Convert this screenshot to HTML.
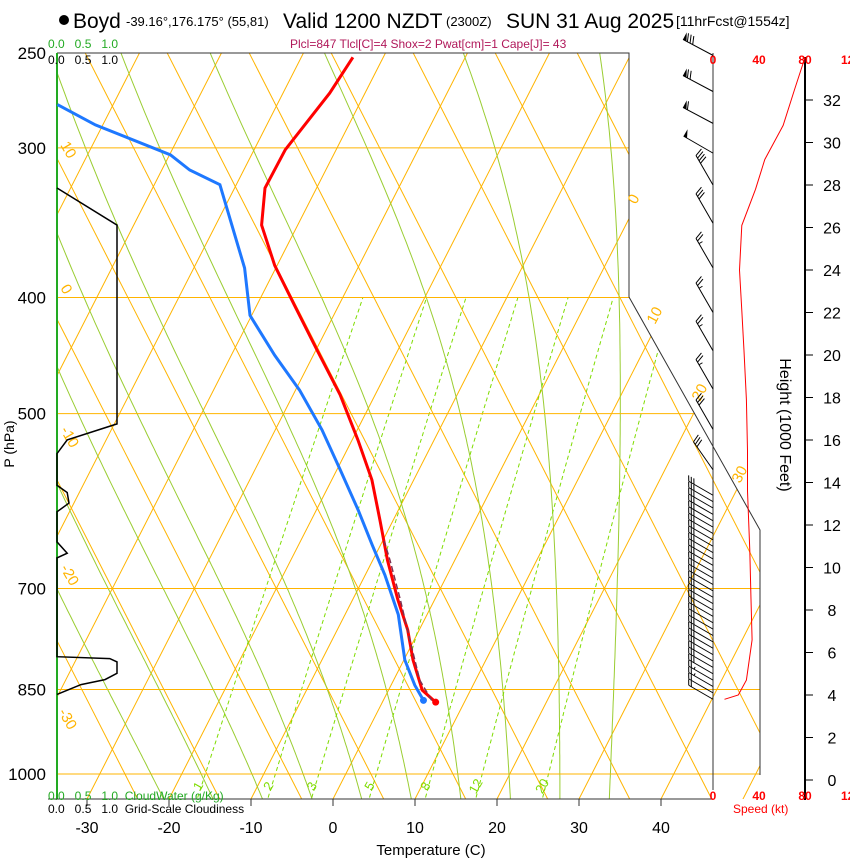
<!DOCTYPE html>
<html><head><meta charset="utf-8"><style>
body{margin:0;background:#fff;}
svg{display:block;font-family:"Liberation Sans",Arial,sans-serif;}
</style></head><body>
<svg id="chart" width="850" height="860" viewBox="0 0 850 860" xmlns="http://www.w3.org/2000/svg">
<defs><clipPath id="plotclip"><polygon points="57,53 629,53 629,297 760,530 760,799 57,799"/></clipPath></defs>
<g id="bg" clip-path="url(#plotclip)"></g>
<g id="fg"></g>
<circle cx="64" cy="20" r="5" fill="#000"/>
<text x="73" y="28" font-size="21">Boyd</text>
<text x="126" y="26" font-size="13">-39.16°,176.175° (55,81)</text>
<text x="283" y="28" font-size="21">Valid 1200 NZDT</text>
<text x="446" y="26" font-size="13">(2300Z)</text>
<text x="506" y="28" font-size="21">SUN 31 Aug 2025</text>
<text x="676" y="26" font-size="14">[11hrFcst@1554z]</text>
<text x="290" y="48" font-size="12" fill="#b0185a">Plcl=847 Tlcl[C]=4 Shox=2 Pwat[cm]=1 Cape[J]= 43</text>
<text x="10" y="440" font-size="14" transform="rotate(-90 14 440)" text-anchor="middle">P (hPa)</text>
<text x="431" y="855" font-size="15" text-anchor="middle">Temperature (C)</text>
<text x="780" y="425" font-size="16" transform="rotate(90 780 425)" text-anchor="middle">Height (1000 Feet)</text>
<text x="733" y="813" font-size="12" fill="#f00">Speed (kt)</text>
<text x="48" y="48" font-size="12" fill="#2a2">0.0 &#160; 0.5 &#160; 1.0</text>
<text x="48" y="64" font-size="12">0.0 &#160; 0.5 &#160; 1.0</text>
<text x="48" y="800" font-size="12" fill="#2a2">0.0 &#160; 0.5 &#160; 1.0 &#160;CloudWater (g/Kg)</text>
<text x="48" y="813" font-size="12">0.0 &#160; 0.5 &#160; 1.0 &#160;Grid-Scale Cloudiness</text>
</svg>
<script>
// ---- data ----
const isobarLevels=[300,400,500,700,850,1000];
const tempTicks=[-30,-20,-10,0,10,20,30,40];
const heightTicks=[0,2,4,6,8,10,12,14,16,18,20,22,24,26,28,30,32];
const speedTicks=[0,40,80,120];
const mixRatios=[1,2,3,5,8,12,20];
const moistStarts=[-20,-14,-8,-2,4,10,16,22,28,34];
const tempP=[252,270,301,324,348,376,406,443,482,526,568,614,663,715,758,803,851,871];
const tempT=[-43.7,-44.3,-46.2,-46.3,-44.4,-40.3,-35.4,-29.8,-24.3,-19.3,-15.1,-11.6,-8.2,-4.5,-1.4,1.1,4.1,6.5];
const dewP=[276,287,304,313,322,378,414,447,478,516,557,602,644,682,736,803,843,868];
const dewT=[-76.8,-70.9,-59.9,-56.6,-52.0,-43.8,-40.2,-34.7,-29.5,-24.3,-19.6,-14.9,-11.0,-7.6,-3.5,0.1,2.9,4.9];
const parcelP=[868,835,773,715,663,639];
const parcelT=[5.9,3.2,-0.5,-4.2,-7.9,-9.8];
const cloudP=[324,348,510,526,540,574,582,594,604,640,654,660,798,801,806,824,834,842,858];
const cloudF=[0,1,1,0.17,0,0,0.17,0.2,0,0,0.17,0,0,0.88,1,1,0.8,0.4,0];
const spdH=[34.0,32.5,30.8,29.2,27.8,26.1,24.0,22.1,20.2,17.9,15.5,13.6,10.8,8.5,6.6,4.7,4.0,3.8];
const spdKt=[80,71,61,45,37,25,23,25,27,29,30,30,32,33,34,29,22,10];
const barbH=[34.1,32.4,30.9,29.5,28.0,26.2,24.1,22.0,20.2,18.4,16.5,14.6,13.4,13.1,12.8,12.5,12.2,11.9,11.6,11.3,11.0,10.7,10.4,10.1,9.8,9.5,9.2,8.9,8.6,8.3,8.0,7.7,7.4,7.1,6.8,6.5,6.2,5.9,5.6,5.3,5.0,4.7,4.4,4.1,3.8];
const barbKt=[80,72,62,50,40,30,25,25,27,28,30,30,30,30,30,31,31,31,32,32,32,32,32,33,33,33,33,33,33,34,34,34,34,34,34,34,34,33,32,31,30,28,25,22,20];
const barbDir=[298,298,298,300,330,330,330,330,330,330,330,325,300,300,300,300,300,300,300,300,300,300,300,300,300,300,300,300,300,300,300,300,300,300,300,300,300,300,300,300,300,300,300,300,300];

// ---- axis functions ----
const yP=p=>774+520*Math.log(p/1000);
const xT=(T,p)=>333+8.2*T+0.51*(799-yP(p));
const yH=h=>780-21.25*h;
const xS=s=>713+1.15*s;
const xC=c=>57+60*c;
const NS='http://www.w3.org/2000/svg';
const bg=document.getElementById('bg'),fg=document.getElementById('fg');
function mk(tag,attrs,parent){const e=document.createElementNS(NS,tag);for(const k in attrs)e.setAttribute(k,attrs[k]);parent.appendChild(e);return e;}
function pathD(pts){return pts.map((q,i)=>(i?'L':'M')+q[0].toFixed(1)+','+q[1].toFixed(1)).join('');}
const ORG='#ffb400',GRN='#9acd32';

// isotherms and their mirrored diagonals
const y700=yP(700);
for(let T=-150;T<=80;T+=10){
  const e=mk('line',{x1:xT(T,1060),y1:yP(1060),x2:xT(T,240),y2:yP(240),stroke:ORG,'stroke-width':1},bg);
  
  
  const x0=xT(T,700);
  const d=mk('line',{x1:x0+0.51*(40-y700),y1:40,x2:x0+0.51*(810-y700),y2:810,stroke:ORG,'stroke-width':1},bg);
  
  
}
// moist adiabats
function es(T){return 6.112*Math.exp(17.67*T/(T+243.5));}
moistStarts.forEach(t0=>{
  let T=t0+273.15,pts=[];
  for(let p=1060;p>=240;p-=5){
    pts.push([xT(T-273.15,p),yP(p)]);
    const rs=0.622*es(T-273.15)/(p-es(T-273.15));
    const dTdp=(287*T+2.5e6*rs)/(p*(1004+2.5e6*2.5e6*rs*0.622/(287*T*T)));
    T-=dTdp*5;
  }
  const e=mk('path',{d:pathD(pts),fill:'none',stroke:GRN,'stroke-width':1},bg);
  
  
});
// mixing ratio lines
function tdw(w,p){const e=w*p/(622+w);const l=Math.log(e/6.112);return 243.5*l/(17.67-l);}
mixRatios.forEach(w=>{
  const pts=[];for(let p=1060;p>=400;p-=10){pts.push([xT(tdw(w,p),p),yP(p)]);}
  const e=mk('path',{d:pathD(pts),fill:'none',stroke:'#7fdc00','stroke-width':1,'stroke-dasharray':'4,3'},bg);
  
  
  const lx=xT(tdw(w,1020),1020),ly=yP(1020)+4;
  const e2=mk('text',{x:lx,y:ly,fill:'#7fdc00','font-size':13,'text-anchor':'middle',transform:`rotate(-60 ${lx} ${ly})`},fg);
  e2.textContent=w;
  
  
});
// isobars
isobarLevels.forEach(p=>{
  const e=mk('line',{x1:57,x2:760,y1:yP(p),y2:yP(p),stroke:ORG,'stroke-width':1},bg);
  
  
  const t=mk('text',{x:46,y:yP(p)+6,'font-size':17,'text-anchor':'end'},fg);
  t.textContent=p;
  
  
});
{const t=mk('text',{x:46,y:yP(250)+6,'font-size':17,'text-anchor':'end'},fg);t.textContent='250';

}
// frame
{const e=mk('path',{d:'M57,53L629,53L629,297L760,530L760,775',fill:'none',stroke:'#333','stroke-width':1},fg);


const l=mk('line',{x1:57,y1:53,x2:57,y2:799,stroke:'#2a2','stroke-width':2},fg);


const b=mk('line',{x1:48,y1:799,x2:713,y2:799,stroke:'#333','stroke-width':1},fg);

}
tempTicks.forEach(T=>{
  const x=333+8.2*T;
  const l=mk('line',{x1:x,x2:x,y1:799,y2:806,stroke:'#333'},fg);
  
  
  const t=mk('text',{x:x,y:833,'font-size':16,'text-anchor':'middle'},fg);
  t.textContent=T;
  
  
});
// orange labels
[[60,145,'10',60],[60,288,'0',60],[60,430,'-10',60],[60,568,'-20',60],[58,712,'-30',60],[636,205,'0',-62],[655,325,'10',-62],[700,402,'20',-62],[740,484,'30',-62]].forEach(a=>{
  const t=mk('text',{x:a[0],y:a[1],'font-size':15,fill:ORG,transform:`rotate(${a[3]} ${a[0]} ${a[1]})`},fg);
  t.textContent=a[2];
  
  
});
// cloudiness
{const e=mk('path',{d:pathD(cloudP.map((p,i)=>[xC(cloudF[i]),yP(p)])),fill:'none',stroke:'#000','stroke-width':1.5},fg);

}
// profiles
{const e=mk('path',{d:pathD(dewP.map((p,i)=>[xT(dewT[i],p),yP(p)])),fill:'none',stroke:'#1e78ff','stroke-width':3},fg);


const e2=mk('path',{d:pathD(tempP.map((p,i)=>[xT(tempT[i],p),yP(p)])),fill:'none',stroke:'#f00','stroke-width':3},fg);


const e3=mk('path',{d:pathD(parcelP.map((p,i)=>[xT(parcelT[i],p),yP(p)])),fill:'none',stroke:'#803050','stroke-width':1.5,'stroke-dasharray':'6,3'},fg);


const n=tempP.length-1,m=dewP.length-1;
const c1=mk('circle',{cx:xT(tempT[n],tempP[n]),cy:yP(tempP[n]),r:3.5,fill:'#f00'},fg);


const c2=mk('circle',{cx:xT(dewT[m],dewP[m]),cy:yP(dewP[m]),r:3.5,fill:'#1e78ff'},fg);

}
// wind panel
{const a=mk('line',{x1:713,y1:53,x2:713,y2:790,stroke:'#333'},fg);


const h=mk('line',{x1:805,y1:57,x2:805,y2:800,stroke:'#000','stroke-width':2},fg);

}
heightTicks.forEach(v=>{
  const l=mk('line',{x1:805,x2:813,y1:yH(v),y2:yH(v),stroke:'#000'},fg);
  
  
  const t=mk('text',{x:832,y:yH(v)+6,'font-size':16,'text-anchor':'middle'},fg);
  t.textContent=v;
  
  
});
speedTicks.forEach(s=>{
  [64,800].forEach(y=>{
    const t=mk('text',{x:xS(s),y:y,'font-size':12,'font-weight':'bold',fill:'#f00','text-anchor':'middle'},fg);
    t.textContent=s;
    
    
  });
});
{const e=mk('path',{d:pathD(spdH.map((h,i)=>[xS(spdKt[i]),yH(h)])),fill:'none',stroke:'#f00','stroke-width':1},fg);

}
// barbs
barbH.forEach((h,i)=>{
  const g=mk('g',{},fg);
  
  
  const a=barbDir[i]*Math.PI/180,L=i>11?28:34;
  const ux=Math.sin(a),uy=-Math.cos(a);
  const bx=713,by=yH(h),tx=bx+ux*L,ty=by+uy*L;
  mk('line',{x1:bx,y1:by,x2:tx,y2:ty,stroke:'#000','stroke-width':1},g);
  let s=barbKt[i],pos=0;
  const fx=-uy,fy=ux;
  const fl=i>11?5:8;
  while(s>=50){const x0=tx-ux*pos,y0=ty-uy*pos;mk('polygon',{points:`${x0},${y0} ${x0+fx*8},${y0+fy*8} ${x0-ux*4},${y0-uy*4}`,fill:'#000'},g);pos+=5;s-=50;}
  while(s>=10){const x0=tx-ux*pos,y0=ty-uy*pos;mk('line',{x1:x0,y1:y0,x2:x0+fx*fl+ux*3,y2:y0+fy*fl+uy*3,stroke:'#000'},g);pos+=3;s-=10;}
  if(s>=5){const x0=tx-ux*pos,y0=ty-uy*pos;mk('line',{x1:x0,y1:y0,x2:x0+fx*fl/2,y2:y0+fy*fl/2,stroke:'#000'},g);}
});
</script>
</body></html>
